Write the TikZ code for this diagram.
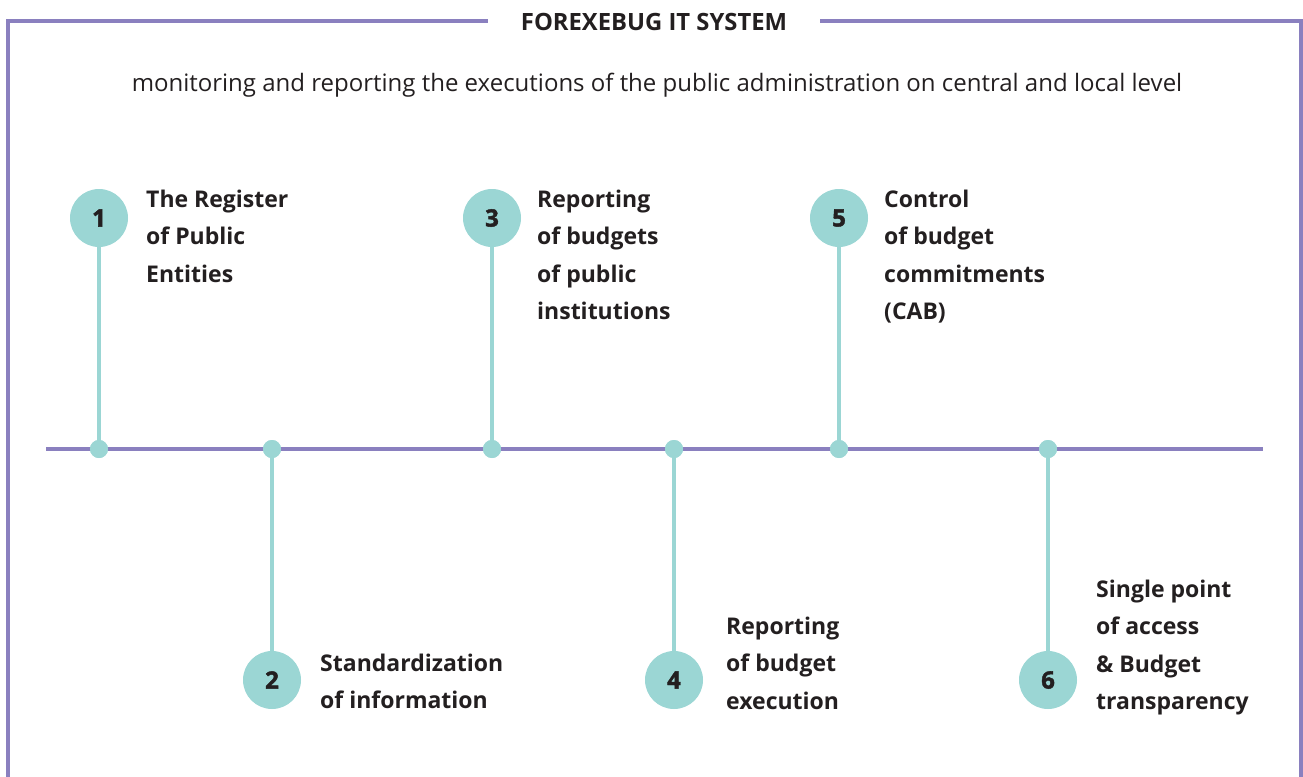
\documentclass[tikz,border=0pt]{standalone}
\usepackage{fontspec}
\setmainfont{Open Sans}
\newfontfamily\heavyfont{Open Sans}[BoldFeatures={FakeBold=1.8}]
\definecolor{frame}{HTML}{8A80BF}
\definecolor{teal}{HTML}{9BD6D4}
\definecolor{ink}{HTML}{231F20}
\begin{document}
\begin{tikzpicture}[x=1pt,y=-1pt,
  framestyle/.style={draw=frame,line width=3.5pt},
  stem/.style={draw=teal,line width=3.5pt},
  dot/.style={circle,fill=teal,minimum size=18pt,inner sep=0pt},
  badge/.style={circle,fill=teal,minimum size=58pt,inner sep=0pt,
    font=\heavyfont\bfseries\fontsize{24}{24}\selectfont,text=ink},
  label/.style={align=left,inner sep=0pt,text=ink,anchor=north west,
    font=\bfseries\fontsize{23}{37.2}\selectfont},
  ]
\useasboundingbox (0,0) rectangle (1303,776);
% outer frame, open at the bottom, with a gap for the title
\coordinate (fbl) at (8,790);
\coordinate (ftl) at (8,21);
\coordinate (gapL) at (488,21);
\coordinate (gapR) at (820,21);
\coordinate (ftr) at (1301,21);
\coordinate (fbr) at (1301,790);
\draw[framestyle] (fbl) -- (ftl) -- (gapL);
\draw[framestyle] (gapR) -- (ftr) -- (fbr);
\node[text=ink,font=\bfseries\fontsize{23.8}{23.8}\selectfont] (title) at (654,22) {FOREXEBUG IT SYSTEM};
\node[text=ink,font=\fontsize{24}{24}\selectfont] (sub) at (657,85) {monitoring and reporting the executions of the public administration on central and local level};
% timeline axis
\coordinate (axL) at (46,449);
\coordinate (axR) at (1263,449);
\draw[framestyle] (axL) -- (axR);
% milestones
\foreach \i/\x/\y in {1/99/218,2/272/680,3/492/218,4/674/680,5/839/218,6/1048/680}{
  \node[dot] (d\i) at (\x,449) {};
  \node[badge] (b\i) at (\x,\y) {\i};
  \draw[stem] (b\i) -- (d\i.center);
  \node[dot] at (\x,449) {};
}
% descriptions: upper ones hang from the top, lower ones end on a common last line
\node[label] (t1) at (146,190) {The Register\\of Public\\Entities};
\node[label] (t3) at (537,190) {Reporting\\of budgets\\of public\\institutions};
\node[label] (t5) at (884,190) {Control\\of budget\\commitments\\(CAB)};
\node[label] (t2) at (320,654) {Standardization\\of information};
\node[label] (t4) at (726,617) {Reporting\\of budget\\execution};
\node[label] (t6) at (1096,580) {Single point\\of access\\\& Budget\\transparency};
\end{tikzpicture}
\end{document}
